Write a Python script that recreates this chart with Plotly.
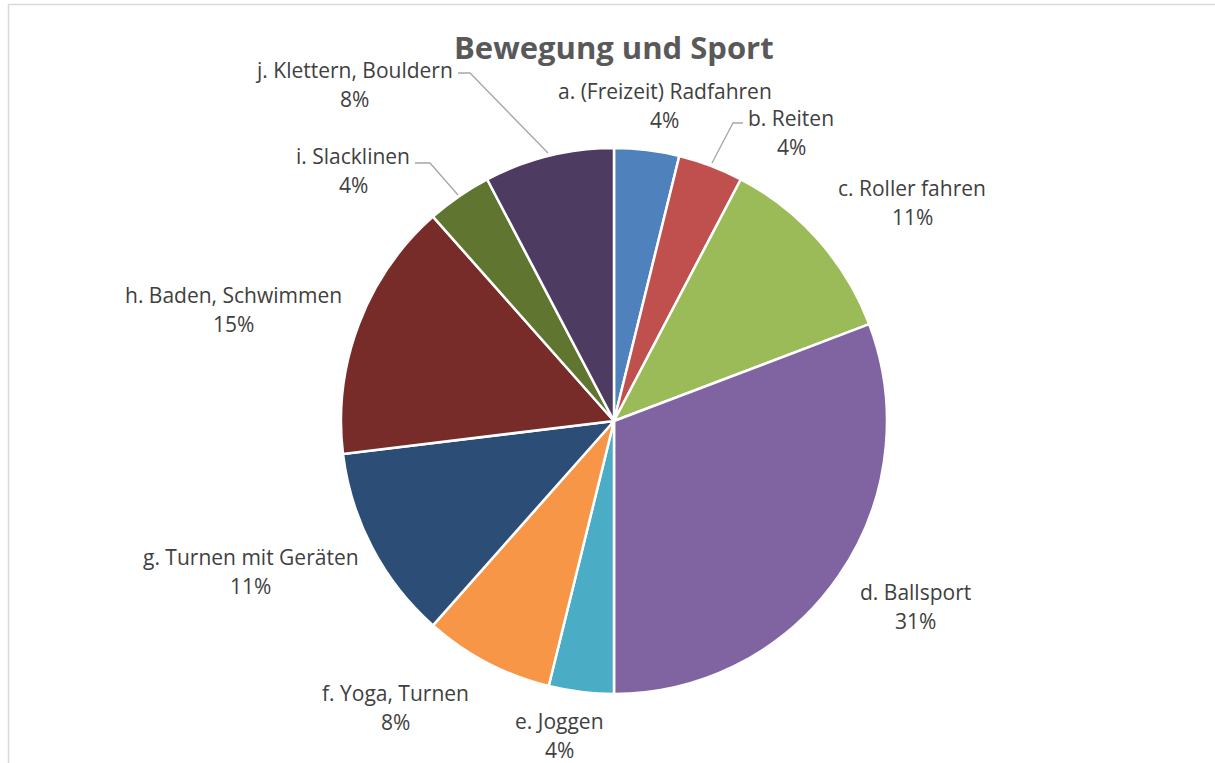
import plotly.graph_objects as go

W, H = 1215, 763

categories = ["a. (Freizeit) Radfahren", "b. Reiten", "c. Roller fahren", "d. Ballsport",
              "e. Joggen", "f. Yoga, Turnen", "g. Turnen mit Geräten", "h. Baden, Schwimmen",
              "i. Slacklinen", "j. Klettern, Bouldern"]
counts = [1, 1, 3, 8, 1, 2, 3, 4, 1, 2]
percent_labels = ["4%", "4%", "11%", "31%", "4%", "8%", "11%", "15%", "4%", "8%"]
colors = ["#4F81BD", "#C0504D", "#9BBB59", "#8064A2", "#4BACC6",
          "#F79646", "#2C4D75", "#772C2A", "#5F7530", "#4D3B62"]

# label centre positions in pixels (line 1 / line 2)
label_pos = {
    0: (665, 91), 1: (791, 118), 2: (912, 188), 3: (915, 592), 4: (559, 721),
    5: (395, 693), 6: (251, 557), 7: (233, 295), 8: (353, 156), 9: (354, 70),
}
LINE_GAP = 29

def px(x):
    return x / W

def py(y):
    return 1 - y / H

cx, cy, r = 614, 421, 273

fig = go.Figure(go.Pie(
    labels=categories, values=counts, sort=False, direction="clockwise", rotation=0,
    marker=dict(colors=colors, line=dict(color="white", width=2.5)),
    textinfo="none", hoverinfo="label+percent",
    domain=dict(x=[px(cx - r), px(cx + r)], y=[py(cy + r), py(cy - r)]),
))

font_family = "'Open Sans', Carlito, Calibri, sans-serif"
ann = []
for i, name in enumerate(categories):
    x, y = label_pos[i]
    ann.append(dict(x=px(x), y=py(y), xref="paper", yref="paper", text=name, showarrow=False,
                    xanchor="center", yanchor="middle",
                    font=dict(family=font_family, size=21, color="#404040")))
    ann.append(dict(x=px(x), y=py(y + LINE_GAP), xref="paper", yref="paper", text=percent_labels[i],
                    showarrow=False, xanchor="center", yanchor="middle",
                    font=dict(family=font_family, size=21, color="#404040")))

ann.append(dict(x=px(614), y=py(47), xref="paper", yref="paper", text="<b>Bewegung und Sport</b>",
                showarrow=False, xanchor="center", yanchor="middle",
                font=dict(family=font_family, size=31, color="#595959")))

def path(points):
    s = "M {} {}".format(px(points[0][0]), py(points[0][1]))
    for p in points[1:]:
        s += " L {} {}".format(px(p[0]), py(p[1]))
    return s

leaders = [
    [(458, 73), (470, 73), (548, 153)],
    [(415, 163), (430, 163), (458, 195)],
    [(743, 123), (733, 123), (712, 163)],
]
shapes = [dict(type="path", xref="paper", yref="paper", path=path(pts),
               line=dict(color="#A6A6A6", width=1.3)) for pts in leaders]
shapes.append(dict(type="rect", xref="paper", yref="paper", x0=px(8.5), y0=py(4.5), x1=px(1230), y1=py(800),
                   line=dict(color="#D9D9D9", width=1.5), layer="below"))

fig.update_layout(
    width=W, height=H, margin=dict(l=0, r=0, t=0, b=0),
    paper_bgcolor="white", plot_bgcolor="white", showlegend=False,
    annotations=ann, shapes=shapes,
)

fig.write_html("out.html", config={"displayModeBar": False},
               post_script="document.body.style.margin='0';document.body.style.overflow='hidden';")
